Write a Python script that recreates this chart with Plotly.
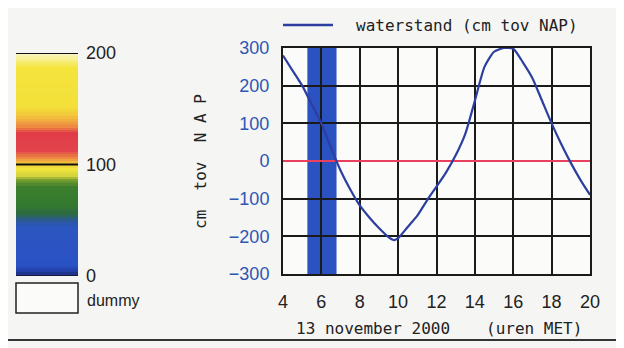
import plotly.graph_objects as go

# waterstand (cm tov NAP), 13 november 2000
uren = [4.0, 4.5, 5.0, 5.5, 6.0, 6.5, 7.0, 7.5, 8.0, 8.5, 9.0, 9.5, 9.8, 10.0,
        10.5, 11.0, 11.5, 12.0, 12.5, 13.0, 13.5, 14.0, 14.5, 15.0, 15.5, 16.0,
        16.5, 17.0, 17.5, 18.0, 18.5, 19.0, 19.5, 20.0]
waterstand = [280, 240, 200, 150, 100, 35, -25, -75, -118, -150, -178, -202, -210, -205,
              -175, -145, -105, -68, -30, 15, 72, 160, 250, 290, 300, 298,
              262, 220, 160, 100, 45, -5, -50, -90]

band_start = 5.27
band_end = 6.79

x_ticks = [4, 6, 8, 10, 12, 14, 16, 18, 20]
y_ticks = [-300, -200, -100, 0, 100, 200, 300]

# colour legend on the left (0..200)
schaal = list(range(0, 201, 2))
schaal_labels = ["200", "100", "0"]
schaal_waarden = [200, 100, 0]
schaal_kleuren = [
    [0.00, "#1a2570"], [0.02, "#2240a8"], [0.05, "#2a52c4"], [0.22, "#2c56c0"],
    [0.25, "#2a5a90"], [0.28, "#2d6a40"], [0.32, "#337a30"], [0.40, "#3c7e2c"],
    [0.43, "#7aa030"], [0.45, "#d6d43c"], [0.48, "#f2e63c"], [0.50, "#f2d23c"],
    [0.52, "#f0a040"], [0.56, "#e2444a"], [0.64, "#e03c48"], [0.67, "#ee8a42"],
    [0.72, "#f3c83c"], [0.76, "#f3e03a"], [0.93, "#f4e43c"], [0.96, "#f6ec70"],
    [1.00, "#f8f6d0"],
]

# page has an 8px body margin, so the figure is 8px smaller on each side
OFF = 8
W, H = 624 - OFF, 348 - OFF
def px(x):
    return (x - OFF) / W
def py(y):
    return 1 - (y - OFF) / H

mono = "DejaVu Sans Mono"
narrow = "Liberation Sans Narrow, Liberation Sans, Arial"

fig = go.Figure()

fig.add_trace(go.Scatter(x=uren, y=waterstand, mode="lines",
                         line=dict(color="#2c3fa0", width=2.2, shape="spline", smoothing=0.6),
                         showlegend=False, xaxis="x", yaxis="y"))

fig.add_trace(go.Heatmap(z=[[v] for v in schaal], x=[0], y=schaal,
                         colorscale=schaal_kleuren, zmin=0, zmax=200,
                         showscale=False, xaxis="x2", yaxis="y2", hoverinfo="skip"))

shapes = []
# blue band
shapes.append(dict(type="rect", xref="x", yref="y", x0=band_start, x1=band_end,
                   y0=-300, y1=300, fillcolor="#2a52c0", line=dict(width=0), layer="below"))
# legend line
shapes.append(dict(type="line", xref="paper", yref="paper", x0=px(283), x1=px(333),
                   y0=py(25), y1=py(25), line=dict(color="#2c3fa0", width=2.5)))
# colour scale lines
for v, c in zip(schaal_waarden, ["#111111", "#111111", "#1a1a40"]):
    shapes.append(dict(type="line", xref="x2", yref="y2", x0=-0.5, x1=0.5, y0=v, y1=v,
                       line=dict(color=c, width=2.2)))
# dummy box
shapes.append(dict(type="rect", xref="paper", yref="paper", x0=px(16), x1=px(78),
                   y0=py(313), y1=py(283), fillcolor="#fbfbfa",
                   line=dict(color="#222222", width=1.5)))
# bottom rule
shapes.append(dict(type="line", xref="paper", yref="paper", x0=0, x1=1,
                   y0=py(340), y1=py(340), line=dict(color="#333333", width=2)))

annotations = [
    dict(text="waterstand (cm tov NAP)", x=px(354), y=py(25), xanchor="left", yanchor="middle",
         font=dict(family=mono, size=16, color="#222222")),
    dict(text="13 november 2000", x=px(294), y=py(328), xanchor="left", yanchor="middle",
         font=dict(family=mono, size=16, color="#222222")),
    dict(text="(uren MET)", x=px(484), y=py(328), xanchor="left", yanchor="middle",
         font=dict(family=mono, size=16, color="#222222")),
    dict(text="cm  tov  N A P", x=px(201), y=py(162), xanchor="center", yanchor="middle",
         textangle=-90, font=dict(family=mono, size=16, color="#222222")),
    dict(text="dummy", x=px(85), y=py(300), xanchor="left", yanchor="middle",
         font=dict(family=narrow, size=16, color="#222222")),
]
for lab, v in zip(schaal_labels, schaal_waarden):
    annotations.append(dict(text=lab, x=px(84), y=v, xref="paper", yref="y2",
                            xanchor="left", yanchor="middle",
                            font=dict(family=narrow, size=18, color="#222222")))
for a in annotations:
    a.setdefault("xref", "paper")
    a.setdefault("yref", "paper")
    a["showarrow"] = False

fig.update_layout(
    width=W, height=H,
    margin=dict(l=0, r=0, t=0, b=0, pad=0),
    paper_bgcolor="#f5f5f3",
    plot_bgcolor="#fbfbfa",
    showlegend=False,
    shapes=shapes,
    annotations=annotations,
    xaxis=dict(domain=[px(283), px(590)], range=[4, 20], tickvals=x_ticks,
               automargin=False,
               showgrid=True, gridcolor="#1a1a1a", gridwidth=1.5,
               showline=True, linecolor="#1a1a1a", linewidth=2, mirror=True,
               zeroline=False, ticks="", ticklabelstandoff=10,
               tickfont=dict(family=narrow, size=18, color="#222222")),
    yaxis=dict(domain=[py(274), py(48)], range=[-300, 300], tickvals=y_ticks,
               automargin=False,
               showgrid=True, gridcolor="#1a1a1a", gridwidth=1.5,
               showline=True, linecolor="#1a1a1a", linewidth=2, mirror=True,
               zeroline=True, zerolinecolor="#e8405e", zerolinewidth=2,
               ticks="", ticklabelstandoff=8,
               tickfont=dict(family=narrow, size=18, color="#2f55b5")),
    xaxis2=dict(domain=[px(16), px(78)], range=[-0.5, 0.5], visible=False,
                anchor="y2", automargin=False),
    yaxis2=dict(domain=[py(276), py(53)], range=[0, 200], visible=False,
                anchor="x2", automargin=False),
)

fig.write_html("out.html")
